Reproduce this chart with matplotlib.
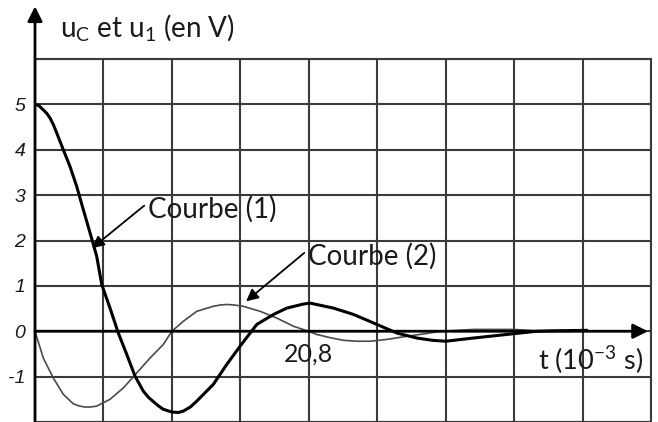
import matplotlib.pyplot as plt
import numpy as np

plt.rcParams['font.family'] = ['Lato', 'DejaVu Sans']
plt.rcParams['mathtext.fontset'] = 'custom'
plt.rcParams['mathtext.rm'] = 'Lato'
plt.rcParams['mathtext.it'] = 'Lato:italic'

# courbe (1) : trait épais
t1 = [0, 0.3, 0.63, 0.9, 1.14, 1.4, 1.65, 2.15, 2.66, 3.17, 3.67, 4.18,
      4.69, 5.07, 5.70, 6.33, 6.97, 7.60, 8.23, 8.6, 8.99, 9.4, 9.75, 10.4,
      10.9, 11.27, 11.8, 12.29, 13.55, 14.57, 15.58, 16.85, 18.12, 19.13,
      20.4, 20.9, 22.68, 24.2, 25.98, 27.5, 29.02, 30.2, 31.2, 33.3, 35.86,
      38.1, 39.4, 41.9]
u1 = [5, 4.97, 4.88, 4.8, 4.7, 4.55, 4.37, 4.0, 3.63, 3.19, 2.68, 2.17,
      1.65, 1.03, 0.51, -0.04, -0.51, -0.99, -1.32, -1.45, -1.55, -1.65,
      -1.72, -1.78, -1.79, -1.76, -1.67, -1.54, -1.17, -0.73, -0.33, 0.15,
      0.37, 0.51, 0.60, 0.62, 0.51, 0.37, 0.15, -0.04, -0.15, -0.2, -0.22,
      -0.15, -0.07, 0.0, 0.01, 0.02]

# courbe (2) : trait fin
t2 = [0, 0.63, 1.39, 2.15, 2.91, 3.4, 3.8, 4.2, 4.69, 5.70, 6.71, 7.73,
      8.74, 9.75, 10.4, 11.27, 12.29, 13.55, 14.1, 14.57, 15.1, 15.83, 17.1,
      18.37, 19.64, 20.78, 21.4, 22.4, 23.44, 24.5, 25.47, 26.74, 28.26,
      29.5, 30.8, 33.3, 36.4, 38.1]
u2 = [0, -0.59, -1.03, -1.39, -1.6, -1.65, -1.67, -1.67, -1.65, -1.5,
      -1.25, -0.92, -0.59, -0.29, 0.0, 0.22, 0.44, 0.55, 0.58, 0.59, 0.58,
      0.55, 0.44, 0.29, 0.11, 0.0, -0.07, -0.14, -0.2, -0.22, -0.22, -0.18,
      -0.11, -0.06, 0.0, 0.04, 0.04, 0.01]

x_step = 5.2
x_max = 9 * x_step
y_ticks = [-2, -1, 0, 1, 2, 3, 4, 5, 6]
y_labels = ['', '-1', '0', '1', '2', '3', '4', '5', '']

txt = '#1a1a1a'
grid_c = '#3a3a3a'

fig = plt.figure(figsize=(6.58, 4.22), dpi=100)
ax = fig.add_axes([35 / 658, 0, 616 / 658, 363 / 422])
ax.set_xlim(0, x_max)
ax.set_ylim(-2, 6)

ax.set_xticks(np.arange(0, x_max + 0.01, x_step))
ax.set_xticklabels([])
ax.set_yticks(y_ticks)
ax.set_yticklabels(y_labels, fontsize=14, style='italic',
                   family='Liberation Sans', color=txt)
ax.tick_params(length=0, pad=7)
ax.grid(True, color=grid_c, linewidth=1.5)
for s in ['top', 'right', 'bottom']:
    ax.spines[s].set_color(grid_c)
    ax.spines[s].set_linewidth(1.5)
ax.spines['left'].set_visible(False)

ax.plot(t2, u2, color='#4a4a4a', linewidth=1.2, zorder=3)
ax.plot(t1, u1, color='black', linewidth=2.2, zorder=4)

# axes fléchés
ax.annotate('', xy=(0, 1.145), xytext=(0, 0), xycoords='axes fraction',
            arrowprops=dict(arrowstyle='-|>', color='black', lw=2,
                            mutation_scale=22, shrinkA=0, shrinkB=0),
            annotation_clip=False)
ax.annotate('', xy=(0.995, 0.25), xytext=(0, 0.25), xycoords='axes fraction',
            arrowprops=dict(arrowstyle='-|>', color='black', lw=2,
                            mutation_scale=22, shrinkA=0, shrinkB=0),
            annotation_clip=False)

# textes
ax.text(0.041, 1.088, r'u$_{\mathregular{C}}$ et u$_{\mathregular{1}}$ (en V)',
        transform=ax.transAxes, fontsize=20, color=txt, va='center')
ax.text(0.817, 0.171, r't (10$^{\mathregular{-3}}$ s)', transform=ax.transAxes,
        fontsize=19.5, color=txt, va='center')
ax.text(20.8, -0.5, '20,8', fontsize=18, color=txt, ha='center', va='center')

ax.annotate('Courbe (1)', xy=(4.33, 1.83), xytext=(8.59, 2.69), fontsize=20,
            color=txt, va='center', ha='left',
            arrowprops=dict(arrowstyle='-|>', color='black', lw=1.3,
                            mutation_scale=18, shrinkA=1, shrinkB=0,
                            relpos=(0, 0.75)))
ax.annotate('Courbe (2)', xy=(16.04, 0.66), xytext=(20.75, 1.65), fontsize=20,
            color=txt, va='center', ha='left',
            arrowprops=dict(arrowstyle='-|>', color='black', lw=1.3,
                            mutation_scale=18, shrinkA=1, shrinkB=0,
                            relpos=(0, 0.75)))

fig.savefig('out.png', dpi=100)
